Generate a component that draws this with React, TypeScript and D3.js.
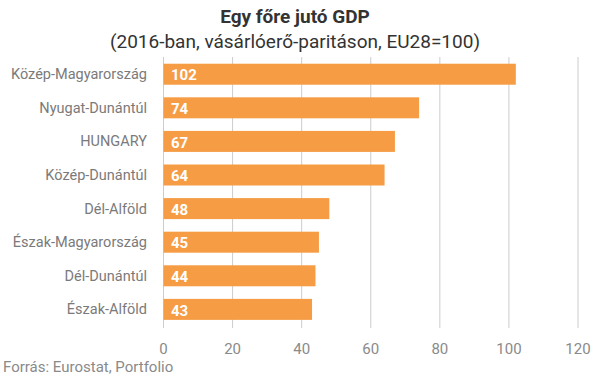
import React from "react";
import * as d3 from "d3";

const categories = [
  "Közép-Magyarország",
  "Nyugat-Dunántúl",
  "HUNGARY",
  "Közép-Dunántúl",
  "Dél-Alföld",
  "Észak-Magyarország",
  "Dél-Dunántúl",
  "Észak-Alföld",
];
const values = [102, 74, 67, 64, 48, 45, 44, 43];
const ticks = [0, 20, 40, 60, 80, 100, 120];

const W = 605;
const H = 378;
const FONT = "Roboto, 'Noto Sans', sans-serif";

export default function App() {
  const x = d3.scaleLinear().domain([0, 120]).range([163.5, 578]);
  const y = d3
    .scaleBand<string>()
    .domain(categories)
    .range([57, 326.6])
    .paddingInner(0.375)
    .paddingOuter(0.2);
  return (
    <svg
      width={W}
      height={H}
      style={{ position: "absolute", left: 0, top: 0, background: "#fff" }}
      fontFamily={FONT}
    >
      <text x={295} y={22.5} textAnchor="middle" fontSize={19} fontWeight="bold" fill="#333">
        Egy főre jutó GDP
      </text>
      <text x={295} y={48} textAnchor="middle" fontSize={19} fill="#333">
        (2016-ban, vásárlóerő-paritáson, EU28=100)
      </text>
      {ticks.map((t) => (
        <g key={t}>
          <line x1={x(t)} x2={x(t)} y1={57} y2={328} stroke="#cccccc" strokeWidth={1} />
          <text x={x(t)} y={353.5} textAnchor="middle" fontSize={15} fill="#8a8a8a">
            {t}
          </text>
        </g>
      ))}
      {categories.map((c, i) => (
        <g key={c}>
          <rect
            x={x(0)}
            y={y(c)!}
            width={x(values[i]) - x(0)}
            height={y.bandwidth()}
            fill="#f69c45"
          />
          <text
            x={147}
            y={y(c)! + y.bandwidth() / 2}
            dy="0.35em"
            textAnchor="end"
            fontSize={14.5}
            fill="#7a7a7a"
          >
            {c}
          </text>
          <text
            x={171}
            y={y(c)! + y.bandwidth() / 2 + 1}
            dy="0.35em"
            fontSize={15}
            fontWeight="bold"
            fill="#fff"
          >
            {values[i]}
          </text>
        </g>
      ))}
      <text x={3} y={372} fontSize={15} fill="#8a8a8a">
        Forrás: Eurostat, Portfolio
      </text>
    </svg>
  );
}
